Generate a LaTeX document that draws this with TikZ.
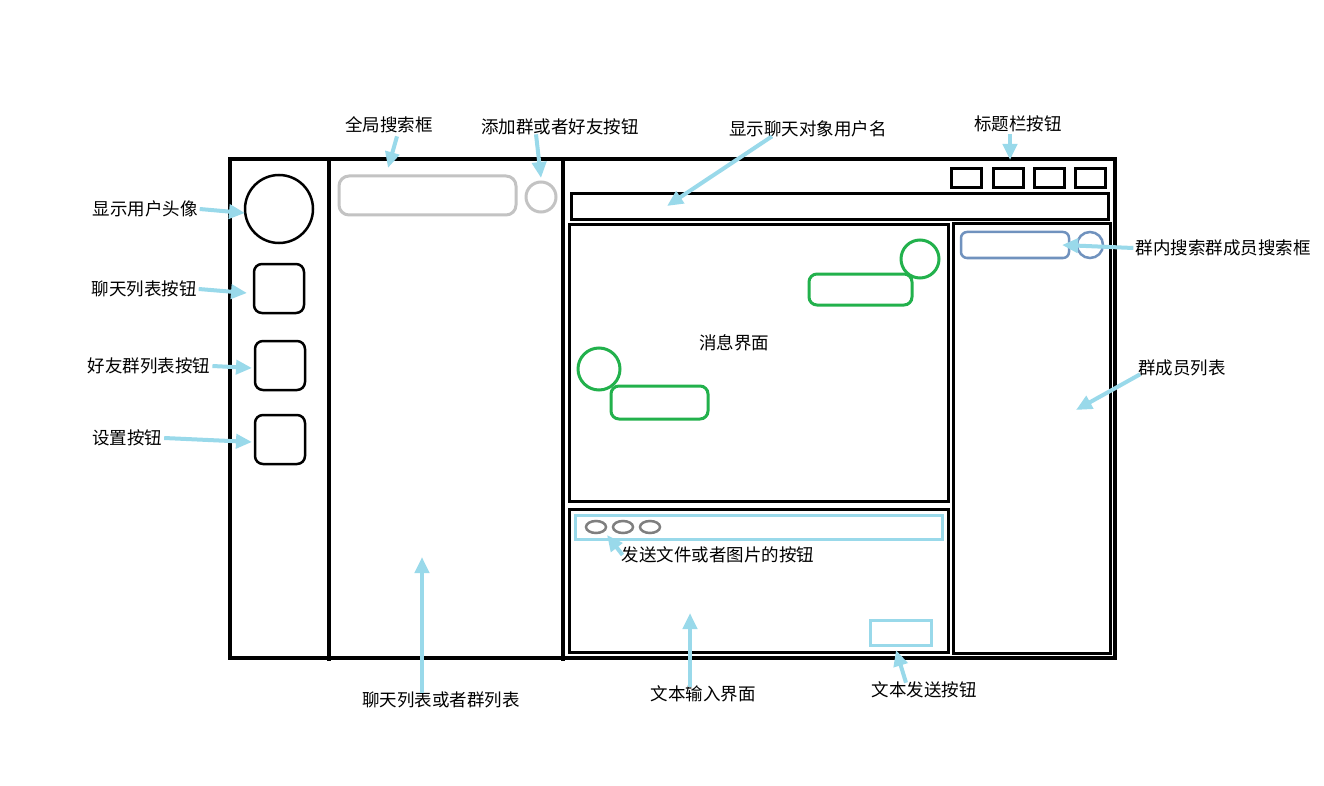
\documentclass[tikz,border=0pt]{standalone}
\usepackage{fontspec}
\newfontfamily\cjk{Noto Sans CJK SC}
\usetikzlibrary{arrows.meta}
\definecolor{tipblue}{RGB}{153,217,234}
\definecolor{bubblegreen}{RGB}{34,177,76}
\definecolor{boxgray}{RGB}{195,195,195}
\definecolor{dotgray}{RGB}{127,127,127}
\definecolor{slateblue}{RGB}{112,146,190}
\tikzset{
  lbl/.style={inner sep=0pt,font=\cjk\fontsize{17.5}{20}\selectfont},
  pointer/.style={tipblue,line width=4pt,-{Triangle[width=14pt,length=16pt]}},
  frame/.style={line width=3pt},
  btn/.style={line width=2.5pt,rounded corners=8pt}
}
\begin{document}
\begin{tikzpicture}[x=1pt,y=-1pt]
    \useasboundingbox[fill=white] (0,0) rectangle (1324,786);

    % Fenster
    \draw[line width=4.5pt] (230,159) rectangle (1115,658);
    \draw[line width=4pt] (329,159) -- (329,661);
    \draw[line width=4pt] (563,159) -- (563,661);

    % linke Spalte
    \draw[line width=2.5pt] (279,209) circle[radius=34pt];
    \draw[btn] (254,264) rectangle (304,313);
    \draw[btn] (255,341) rectangle (305,390);
    \draw[btn] (255,415) rectangle (305,464);

    % Suche
    \draw[boxgray,line width=3pt,rounded corners=10pt] (339,176) rectangle (516,215);
    \draw[boxgray,line width=3pt] (541,197) circle[radius=15pt];

    % Titelleiste
    \foreach \bx in {951,993,1034,1075}
      \draw[line width=3pt] (\bx,169) rectangle (\bx+30,188);
    \draw[frame] (571,194) rectangle (1108,220);

    % Nachrichten
    \draw[frame] (569,225) rectangle (948,501);
    \draw[bubblegreen,line width=3pt] (920,259) circle[radius=19pt];
    \draw[bubblegreen,line width=3pt,rounded corners=8pt] (809,274) rectangle (912,305);
    \draw[bubblegreen,line width=3pt] (599,369) circle[radius=21pt];
    \draw[bubblegreen,line width=3pt,rounded corners=8pt] (611,386) rectangle (708,419);
    \node[lbl] (msgArea) at (734,343) {消息界面};

    % Eingabe
    \draw[frame] (569,509) rectangle (948,652);
    \draw[tipblue,line width=3pt] (575,515) rectangle (942,539);
    \foreach \ex in {596,623,650}
      \draw[dotgray,line width=2.5pt] (\ex,527) ellipse[x radius=10pt,y radius=6pt];
    \draw[tipblue,line width=3pt] (870,620) rectangle (931,645);

    % Mitglieder
    \draw[frame] (953,224) rectangle (1110,653);
    \draw[slateblue,line width=2.5pt,rounded corners=6pt] (961,232) rectangle (1069,258);
    \draw[slateblue,line width=2.5pt] (1090,245) circle[radius=13pt];

    % Beschriftungen
    \node[lbl] (lblAvatar) at (145,209) {显示用户头像};
    \node[lbl] (lblChats) at (144,289) {聊天列表按钮};
    \node[lbl] (lblFriends) at (149,366) {好友群列表按钮};
    \node[lbl] (lblSettings) at (127,438) {设置按钮};
    \node[lbl] (lblSearch) at (389,125) {全局搜索框};
    \node[lbl] (lblAdd) at (560,127) {添加群或者好友按钮};
    \node[lbl] (lblPeer) at (808,129) {显示聊天对象用户名};
    \node[lbl] (lblTitle) at (1018,124) {标题栏按钮};
    \node[lbl] (lblGrpSearch) at (1223,248) {群内搜索群成员搜索框};
    \node[lbl] (lblMembers) at (1182,368) {群成员列表};
    \node[lbl] (lblFiles) at (718,555) {发送文件或者图片的按钮};
    \node[lbl] (lblList) at (441,700) {聊天列表或者群列表};
    \node[lbl] (lblInput) at (703,694) {文本输入界面};
    \node[lbl] (lblSend) at (924,690) {文本发送按钮};

    % Pfeilspitzen
    \coordinate (tAvatar) at (245,213);
    \coordinate (tChats) at (247,293);
    \coordinate (tFriends) at (252,368);
    \coordinate (tSettings) at (252,442);
    \coordinate (tSearch) at (388,168);
    \coordinate (tAdd) at (541,178);
    \coordinate (tPeer) at (667,206);
    \coordinate (tTitle) at (1010,160);
    \coordinate (tGrpSearch) at (1062,245);
    \coordinate (tMembers) at (1076,410);
    \coordinate (tFiles) at (607,535);
    \coordinate (tList) at (422,557);
    \coordinate (tInput) at (690,613);
    \coordinate (tSend) at (896,650);

    % Pfeile
    \draw[pointer] ([xshift=2pt]lblAvatar.east) -- (tAvatar);
    \draw[pointer] ([xshift=2pt]lblChats.east) -- (tChats);
    \draw[pointer] ([xshift=2pt]lblFriends.east) -- (tFriends);
    \draw[pointer] ([xshift=2pt]lblSettings.east) -- (tSettings);
    \draw[pointer] ([xshift=8pt,yshift=-3pt]lblSearch.south) -- (tSearch);
    \draw[pointer] ([xshift=-24pt,yshift=1pt]lblAdd.south) -- (tAdd);
    \draw[pointer] ([xshift=-36pt,yshift=1pt]lblPeer.south) -- (tPeer);
    \draw[pointer] ([xshift=-8pt,yshift=-2pt]lblTitle.south) -- (tTitle);
    \draw[pointer] ([xshift=-2pt]lblGrpSearch.west) -- (tGrpSearch);
    \draw[pointer] ([xshift=2pt,yshift=2pt]lblMembers.south west) -- (tMembers);
    \draw[pointer] ([xshift=1pt]lblFiles.west) -- (tFiles);
    \draw[pointer] ([xshift=-19pt,yshift=-1pt]lblList.north) -- (tList);
    \draw[pointer] ([xshift=-13pt,yshift=-1pt]lblInput.north) -- (tInput);
    \draw[pointer] ([xshift=-18pt,yshift=-1pt]lblSend.north) -- (tSend);
\end{tikzpicture}
\end{document}
